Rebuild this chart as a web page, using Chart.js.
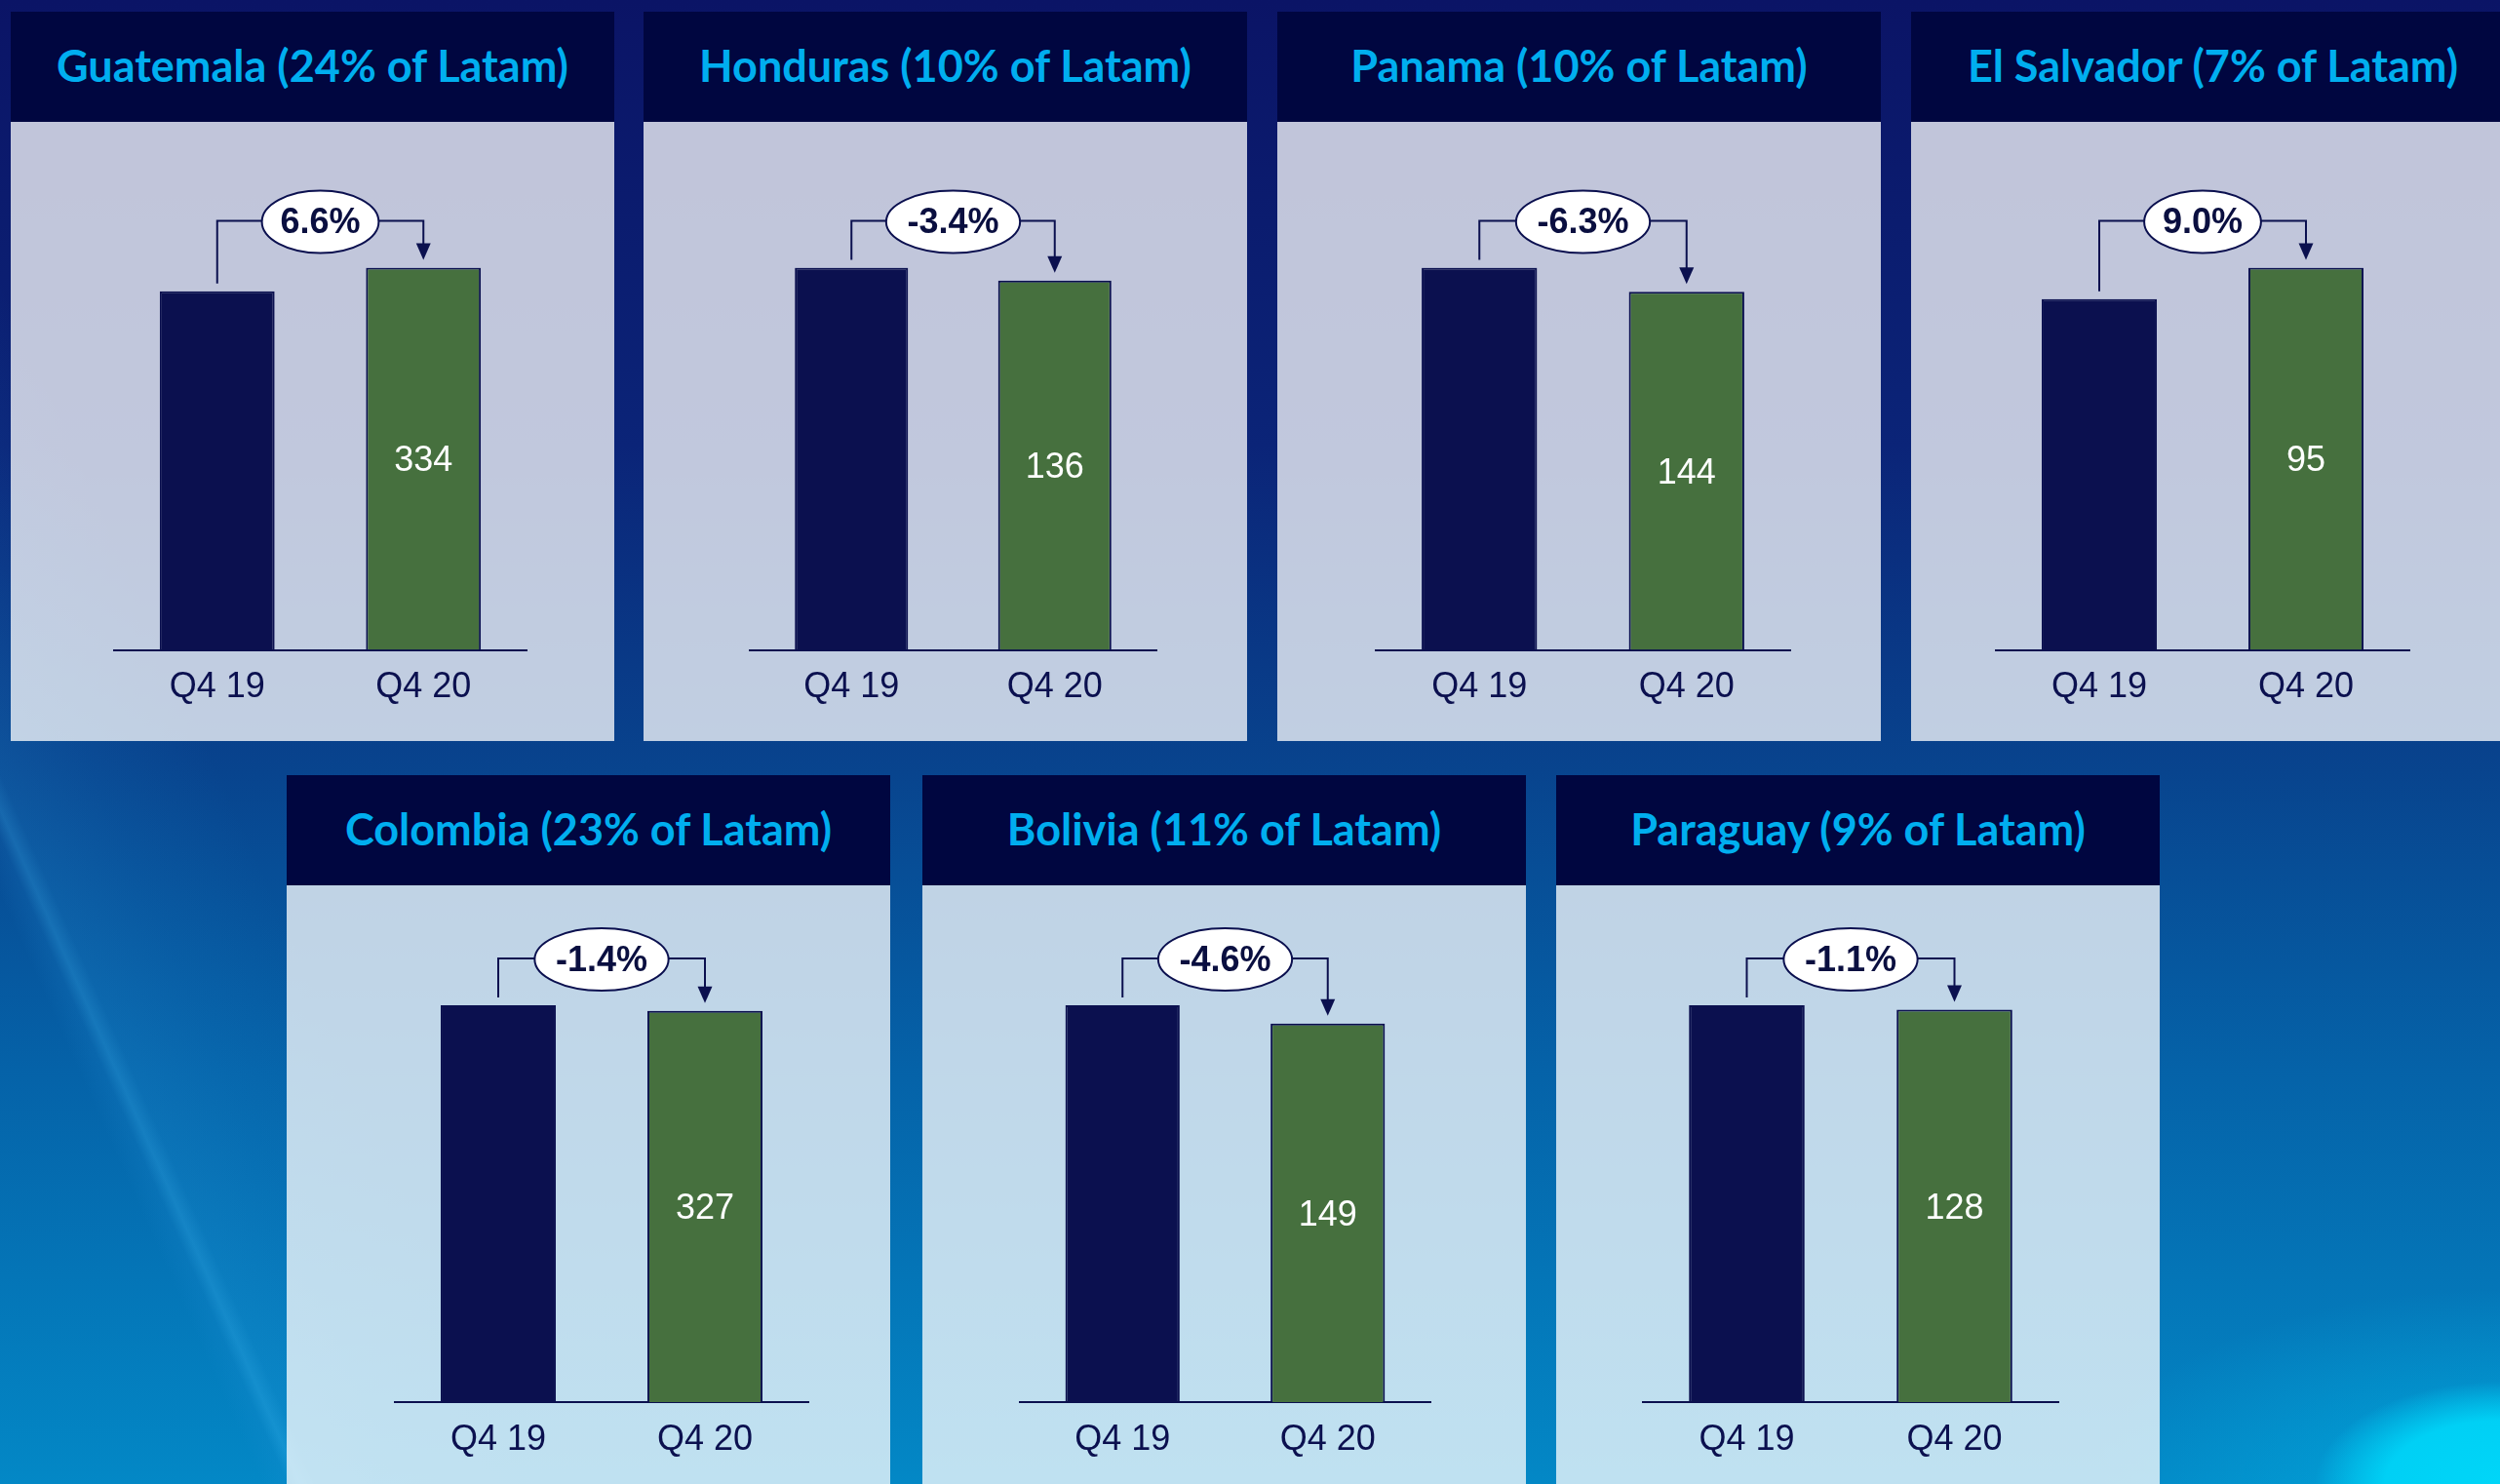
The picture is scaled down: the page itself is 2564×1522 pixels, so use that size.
<!DOCTYPE html>
<html lang="en">
<head>
  <meta charset="UTF-8" />
  <title>Latam volumes Q4 19 vs Q4 20</title>
  <script src="https://cdn.jsdelivr.net/npm/chart.js"></script>
  <style>
    html, body {
      margin: 0;
      padding: 0;
    }

    body {
      width: 2564px;
      height: 1522px;
      overflow: hidden;
      position: relative;
      background:
        radial-gradient(ellipse 190px 105px at 100% 100%, #00d6f8 0%, #00d0f5 62%, rgba(0, 190, 240, 0) 100%),
        radial-gradient(ellipse 420px 200px at 100% 100%, rgba(0, 200, 242, 0.45) 0%, rgba(0, 160, 225, 0) 100%),
        linear-gradient(66deg, rgba(0, 0, 0, 0) 8.3%, rgba(40, 150, 220, 0.12) 9.1%, rgba(60, 180, 240, 0.3) 9.5%, rgba(40, 160, 225, 0.18) 10%, rgba(30, 150, 220, 0.1) 13%, rgba(0, 0, 0, 0) 17%),
        linear-gradient(180deg, #0b1466 0%, #0b2478 30%, #08448e 52%, #0562a8 72%, #0388c6 100%);
    }

    .panel {
      position: absolute;
      width: 619px;
    }

    .panel h2 {
      margin: 0;
      height: 113px;
      box-sizing: border-box;
      padding-bottom: 4px;
      background: #000640;
      color: #00aeef;
      font: 700 45px Lato, "Open Sans", sans-serif;
      display: flex;
      align-items: center;
      justify-content: center;
      white-space: nowrap;
    }

    .panel .chartBody {
      background: rgba(255, 255, 255, 0.75);
    }

    canvas {
      display: block;
    }
  </style>
</head>
<body>

<script>
  // values per country, Q4 19 vs Q4 20
  const countries  = ['Guatemala', 'Honduras', 'Panama', 'El Salvador', 'Colombia', 'Bolivia', 'Paraguay'];
  const latamShare = [24, 10, 10, 7, 23, 11, 9];
  const periods    = ['Q4 19', 'Q4 20'];
  const q419       = [313.3, 140.8, 153.7, 87.2, 331.6, 156.2, 129.4];
  const q420       = [334, 136, 144, 95, 327, 149, 128];
  const growth     = [6.6, -3.4, -6.3, 9.0, -1.4, -4.6, -1.1];

  // panel placement on the slide
  const panelLeft = [11, 660, 1310, 1960, 294, 946, 1596];
  const panelRow  = [0, 0, 0, 0, 1, 1, 1];
  const plotLeft  = [106, 109, 101, 87, 111, 100, 89];
  const plotWidth = [423, 417, 425, 424, 424, 421, 426];

  const rows = [
    { top: 12,  bodyHeight: 635, padTop: 149.5, axisHeight: 93.5 },
    { top: 795, bodyHeight: 614, padTop: 123,   axisHeight: 84 }
  ];

  const NAVY = '#0b104f';
  const GREEN = '#46703e';
  const PANEL_W = 619;

  Chart.defaults.font.family = '"Liberation Sans", Arial, sans-serif';

  // bracket + bubble with the change %, and the Q4 20 value inside its bar
  const changeBubble = {
    id: 'changeBubble',
    afterDatasetsDraw(chart, args, opts) {
      const ctx = chart.ctx;
      const bars = chart.getDatasetMeta(0).data;
      const b1 = bars[0], b2 = bars[1];
      const topY = Math.min(b1.y, b2.y);
      const ly = topY - 48;
      const cx = (b1.x + b2.x) / 2;

      ctx.save();
      ctx.font = 'bold 36px "Liberation Sans", Arial, sans-serif';
      const tw = ctx.measureText(opts.text).width;
      const rx = tw * 0.73, ry = 32;

      ctx.strokeStyle = NAVY;
      ctx.lineWidth = 2;
      ctx.beginPath();
      ctx.moveTo(b1.x, b1.y - 8);
      ctx.lineTo(b1.x, ly);
      ctx.lineTo(cx - rx, ly);
      ctx.moveTo(cx + rx, ly);
      ctx.lineTo(b2.x, ly);
      ctx.lineTo(b2.x, b2.y - 20);
      ctx.stroke();

      ctx.fillStyle = NAVY;
      ctx.beginPath();
      ctx.moveTo(b2.x - 7.5, b2.y - 25);
      ctx.lineTo(b2.x + 7.5, b2.y - 25);
      ctx.lineTo(b2.x, b2.y - 8);
      ctx.closePath();
      ctx.fill();

      ctx.beginPath();
      ctx.ellipse(cx, ly + 1, rx, ry, 0, 0, Math.PI * 2);
      ctx.fillStyle = '#ffffff';
      ctx.fill();
      ctx.stroke();

      ctx.fillStyle = '#0a0f40';
      ctx.textAlign = 'center';
      ctx.textBaseline = 'middle';
      ctx.fillText(opts.text, cx, ly + 3);

      ctx.font = '36px "Liberation Sans", Arial, sans-serif';
      ctx.fillStyle = '#ffffff';
      ctx.fillText(String(opts.value), b2.x, (b2.y + b2.base) / 2 + 3);
      ctx.restore();
    }
  };

  countries.forEach((name, i) => {
    const row = rows[panelRow[i]];

    const panel = document.createElement('div');
    panel.className = 'panel';
    panel.style.left = panelLeft[i] + 'px';
    panel.style.top = row.top + 'px';

    const title = document.createElement('h2');
    title.textContent = name + ' (' + latamShare[i] + '% of Latam)';
    panel.appendChild(title);

    const body = document.createElement('div');
    body.className = 'chartBody';
    const canvas = document.createElement('canvas');
    canvas.width = PANEL_W;
    canvas.height = row.bodyHeight;
    body.appendChild(canvas);
    panel.appendChild(body);
    document.body.appendChild(panel);

    new Chart(canvas, {
      type: 'bar',
      data: {
        labels: periods,
        datasets: [{
          data: [q419[i], q420[i]],
          backgroundColor: [NAVY, GREEN],
          borderColor: NAVY,
          borderWidth: 2,
          barPercentage: 0.557,
          categoryPercentage: 1
        }]
      },
      options: {
        responsive: false,
        animation: false,
        events: [],
        layout: {
          padding: {
            left: plotLeft[i],
            right: PANEL_W - plotLeft[i] - plotWidth[i],
            top: row.padTop,
            bottom: 0
          }
        },
        plugins: {
          legend: { display: false },
          tooltip: { enabled: false },
          changeBubble: {
            text: growth[i].toFixed(1) + '%',
            value: q420[i]
          }
        },
        scales: {
          x: {
            grid: { drawOnChartArea: false, drawTicks: false },
            border: { display: true, color: NAVY, width: 2 },
            ticks: {
              color: NAVY,
              padding: 17,
              font: { size: 36 }
            },
            afterFit: (scale) => { scale.height = row.axisHeight; }
          },
          y: {
            display: false,
            min: 0,
            max: Math.max(q419[i], q420[i])
          }
        }
      },
      plugins: [changeBubble]
    });
  });
</script>

</body>
</html>
